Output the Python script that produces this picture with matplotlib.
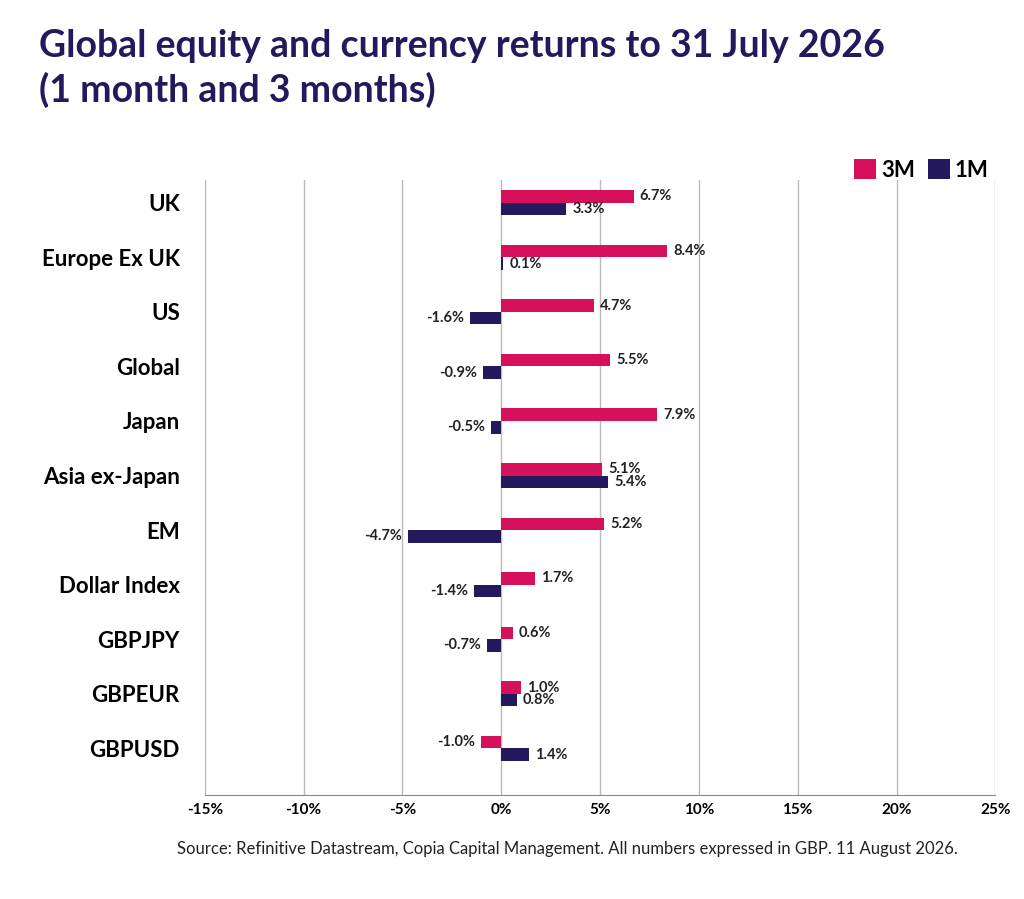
import matplotlib
matplotlib.use("Agg")
import matplotlib.pyplot as plt
import numpy as np

plt.rcParams['font.family'] = ['Lato', 'DejaVu Sans']

categories = ["UK", "Europe Ex UK", "US", "Global", "Japan", "Asia ex-Japan", "EM",
              "Dollar Index", "GBPJPY", "GBPEUR", "GBPUSD"]
m3 = [6.7, 8.4, 4.7, 5.5, 7.9, 5.1, 5.2, 1.7, 0.6, 1.0, -1.0]
m1 = [3.3, 0.1, -1.6, -0.9, -0.5, 5.4, -4.7, -1.4, -0.7, 0.8, 1.4]
xticks = [-15, -10, -5, 0, 5, 10, 15, 20, 25]

pink = "#d6105a"
navy = "#23195c"

fig = plt.figure(figsize=(10.24, 8.99), dpi=100)
ax = fig.add_axes([0.2, 0.116, 0.772, 0.684])
y = np.arange(len(categories))
h = 0.23
ax.barh(y - h/2, m3, height=h, color=pink, label="3M", zorder=3)
ax.barh(y + h/2, m1, height=h, color=navy, label="1M", zorder=3)

for yi, v in zip(y, m3):
    ax.text(v + (0.3 if v >= 0 else -0.3), yi - h/2, f"{v:.1f}%", va="center",
            ha="left" if v >= 0 else "right", fontsize=10.5, fontweight="bold", color="#222222")
for yi, v in zip(y, m1):
    ax.text(v + (0.3 if v >= 0 else -0.3), yi + h/2, f"{v:.1f}%", va="center",
            ha="left" if v >= 0 else "right", fontsize=10.5, fontweight="bold", color="#222222")

ax.set_xlim(-15, 25)
ax.set_ylim(10.85, -0.42)
ax.set_xticks(xticks)
ax.set_xticklabels([f"{t}%" for t in xticks], fontsize=11, fontweight="bold")
ax.set_yticks(y)
ax.set_yticklabels(categories, fontsize=16, fontweight="bold")
ax.tick_params(axis="y", length=0, pad=18)
ax.tick_params(axis="x", length=0, pad=6)
ax.grid(axis="x", color="#bbbbbb", linewidth=1, zorder=0)
for s in ["top", "right", "left"]:
    ax.spines[s].set_visible(False)
ax.spines["bottom"].set_color("#888888")

leg = fig.legend(loc="upper right", bbox_to_anchor=(0.985, 0.845), ncol=2, frameon=False,
                 fontsize=16, handlelength=1.0, handleheight=1.0, columnspacing=0.6,
                 handletextpad=0.2)
for t in leg.get_texts():
    t.set_fontweight("bold")

fig.text(0.038, 0.968, "Global equity and currency returns to 31 July 2026\n(1 month and 3 months)",
         fontsize=27, fontweight="bold", color=navy, va="top", linespacing=1.3)
fig.text(0.935, 0.05, "Source: Refinitive Datastream, Copia Capital Management. All numbers expressed in GBP. 11 August 2026.",
         fontsize=12, ha="right", color="#222222")

fig.savefig("out.png", dpi=100, facecolor="white")
